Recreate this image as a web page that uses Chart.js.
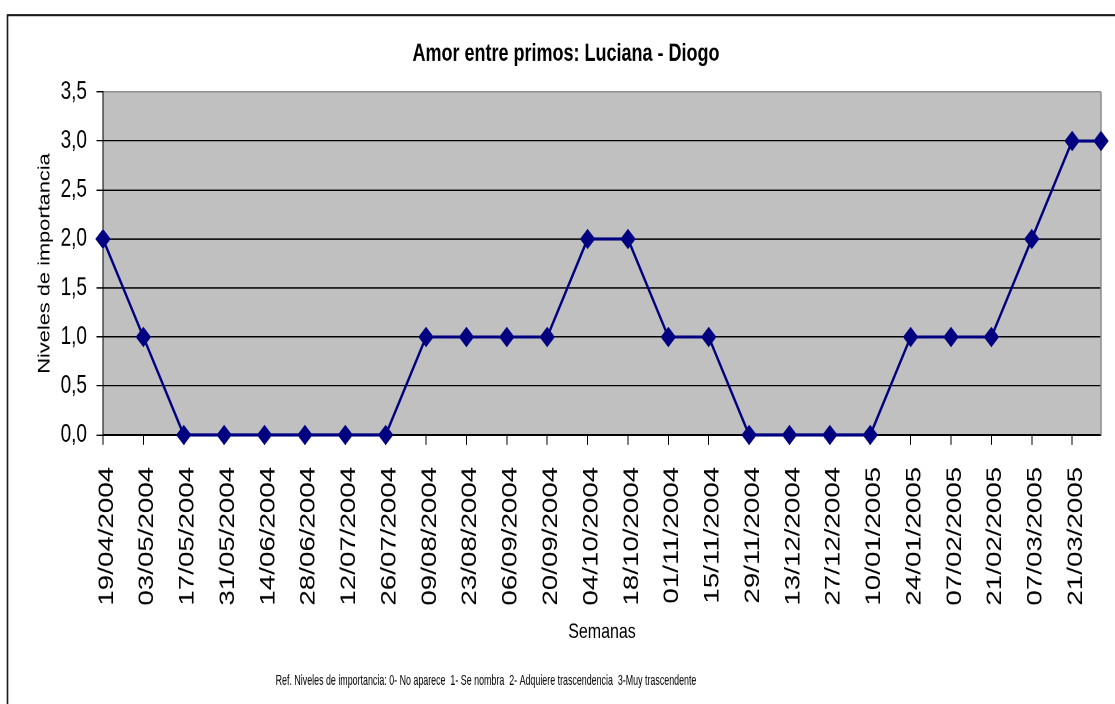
<!DOCTYPE html>
<html>
<head>
<meta charset="utf-8">
<script src="https://cdn.jsdelivr.net/npm/chart.js@4.4.1/dist/chart.umd.min.js"></script>
<style>
  html { overflow: hidden; }
  body { margin: 0; padding: 0; background: #fff; width: 1115px; height: 704px; }
  /* the source picture was stretched vertically, so draw flat and stretch */
  #wrap { width: 1115px; height: 533px; transform: scaleY(1.3208); transform-origin: 0 0; }
</style>
</head>
<body>
<div id="wrap"><canvas id="lineChart" width="1115" height="533"></canvas></div>
<script>
// dates of the data points (last one estimated from its position)
const fechas = ['19/04/2004', '03/05/2004', '17/05/2004', '31/05/2004', '14/06/2004', '28/06/2004',
  '12/07/2004', '26/07/2004', '09/08/2004', '23/08/2004', '06/09/2004', '20/09/2004', '04/10/2004',
  '18/10/2004', '01/11/2004', '15/11/2004', '29/11/2004', '13/12/2004', '27/12/2004', '10/01/2005',
  '24/01/2005', '07/02/2005', '21/02/2005', '07/03/2005', '21/03/2005', '31/03/2005'];
const niveles = [2, 1, 0, 0, 0, 0, 0, 0, 1, 1, 1, 1, 2, 2, 1, 1, 0, 0, 0, 0, 1, 1, 1, 2, 3, 3];

// x tick labels (every two weeks)
const semanas = ['19/04/2004', '03/05/2004', '17/05/2004', '31/05/2004', '14/06/2004', '28/06/2004',
  '12/07/2004', '26/07/2004', '09/08/2004', '23/08/2004', '06/09/2004', '20/09/2004', '04/10/2004',
  '18/10/2004', '01/11/2004', '15/11/2004', '29/11/2004', '13/12/2004', '27/12/2004', '10/01/2005',
  '24/01/2005', '07/02/2005', '21/02/2005', '07/03/2005', '21/03/2005'];

const yTicks = [0, 0.5, 1, 1.5, 2, 2.5, 3, 3.5];
const yTickLabels = ['0,0', '0,5', '1,0', '1,5', '2,0', '2,5', '3,0', '3,5'];

const titulo = 'Amor entre primos: Luciana - Diogo';
const tituloX = 'Semanas';
const tituloY = 'Niveles de importancia';
const nota = 'Ref. Niveles de importancia: 0- No aparece  1- Se nombra  2- Adquiere trascendencia  3-Muy trascendente';

const FONT = '"Liberation Sans", Arial, sans-serif';

function dias(str) {
  const [d, m, y] = str.split('/').map(Number);
  const [d0, m0, y0] = fechas[0].split('/').map(Number);
  return (Date.UTC(y, m - 1, d) - Date.UTC(y0, m0 - 1, d0)) / 86400000;
}

const fondo = {
  id: 'fondo',
  beforeDraw(chart) {
    const { ctx, chartArea: a } = chart;
    ctx.save();
    ctx.fillStyle = '#fff';
    ctx.fillRect(0, 0, chart.width, chart.height);
    ctx.strokeStyle = '#1a1a1a';
    ctx.lineWidth = 1.6;
    ctx.strokeRect(7.5, 11.4, chart.width + 20, chart.height + 20);
    ctx.fillStyle = '#c0c0c0';
    ctx.fillRect(a.left, a.top, a.right - a.left, a.bottom - a.top);
    ctx.restore();
  },
  beforeDatasetsDraw(chart) {
    const { ctx, chartArea: a } = chart;
    ctx.save();
    ctx.strokeStyle = '#8c8c8c';
    ctx.lineWidth = 1.5;
    ctx.beginPath();
    ctx.moveTo(a.right, a.top);
    ctx.lineTo(a.right, a.bottom);
    ctx.stroke();
    ctx.restore();
  },
  afterDraw(chart) {
    const ctx = chart.ctx;
    ctx.save();
    ctx.translate(486, 515.2);
    ctx.scale(0.78, 1);
    ctx.font = '11.4px ' + FONT;
    ctx.fillStyle = '#000';
    ctx.textAlign = 'center';
    ctx.textBaseline = 'middle';
    ctx.fillText(nota, 0, 0);
    ctx.restore();
  }
};

document.addEventListener('DOMContentLoaded', () => {
  const ctx = document.getElementById('lineChart').getContext('2d');
  new Chart(ctx, {
    type: 'line',
    data: {
      datasets: [{
        label: 'Niveles',
        data: fechas.map((f, i) => ({ x: dias(f), y: niveles[i] })),
        borderColor: '#000080',
        borderWidth: 2.3,
        backgroundColor: '#000080',
        pointStyle: 'rectRot',
        pointRadius: 7,
        pointBackgroundColor: '#000080',
        pointBorderColor: '#000080',
        pointBorderWidth: 1,
        tension: 0,
        clip: false
      }]
    },
    options: {
      responsive: false,
      animation: false,
      devicePixelRatio: 2,
      layout: { padding: { left: 31, right: 14, top: 0, bottom: 30 } },
      plugins: {
        legend: { display: false },
        tooltip: { enabled: false },
        title: {
          display: true,
          text: titulo,
          color: '#000',
          font: { family: FONT, size: 18, weight: 'bold' },
          padding: { top: 30, bottom: 18.05 }
        }
      },
      scales: {
        x: {
          type: 'linear',
          min: 0,
          max: dias(fechas[fechas.length - 1]),
          afterBuildTicks: (scale) => { scale.ticks = semanas.map(s => ({ value: dias(s) })); },
          afterFit: (scale) => { scale.height = 173.7; },
          ticks: {
            autoSkip: false,
            minRotation: 90,
            maxRotation: 90,
            padding: 16.5,
            labelOffset: 4,
            color: '#000',
            font: { family: FONT, size: 21 },
            callback: (value, index) => semanas[index]
          },
          grid: { drawOnChartArea: false, color: '#000', tickLength: 7.6, lineWidth: 1 },
          border: { color: '#000', width: 1.2 },
          title: {
            display: true,
            text: tituloX,
            color: '#000',
            font: { family: FONT, size: 16 },
            padding: { top: 0, bottom: 14.9 }
          }
        },
        y: {
          min: 0,
          max: 3.5,
          afterBuildTicks: (scale) => { scale.ticks = yTicks.map(v => ({ value: v })); },
          afterFit: (scale) => { scale.width = 72; },
          ticks: {
            padding: 9.5,
            color: '#000',
            font: { family: FONT, size: 19 },
            callback: (value, index) => yTickLabels[index]
          },
          grid: {
            color: (c) => (c.tick && c.tick.value === 3.5 ? '#8c8c8c' : '#000'),
            tickColor: '#000',
            tickLength: 6.5,
            lineWidth: 1
          },
          border: { color: '#000', width: 1 },
          title: {
            display: true,
            text: tituloY,
            color: '#000',
            font: { family: FONT, size: 16.5 },
            padding: { top: 4, bottom: 0 }
          }
        }
      }
    },
    plugins: [fondo]
  });
});
</script>
</body>
</html>
